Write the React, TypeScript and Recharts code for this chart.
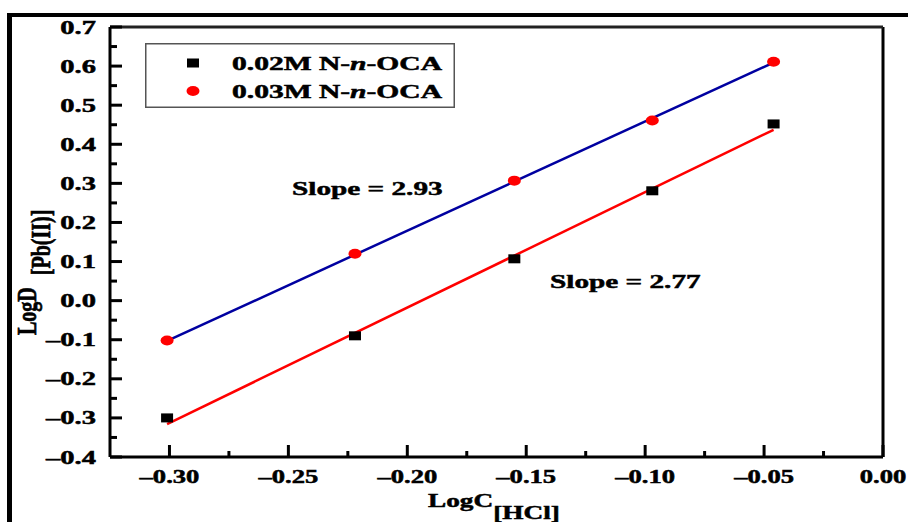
import {
  ComposedChart,
  Scatter,
  Line,
  XAxis,
  YAxis,
  ReferenceLine,
  Legend,
  Customized,
} from 'recharts';

const FONT = '"Liberation Serif", "Times New Roman", serif';

// log C(HCl) for the five acid concentrations
const logC = [-0.301, -0.222, -0.155, -0.097, -0.046];
// log D Pb(II) at the two extractant concentrations
const logD002 = [-0.3, -0.09, 0.107, 0.281, 0.452];
const logD003 = [-0.102, 0.12, 0.307, 0.461, 0.611];

// linear fit end points
const fitX = [-0.301, -0.046];
const fit002 = [-0.316, 0.437];
const fit003 = [-0.103, 0.609];

const xTicks = [-0.3, -0.275, -0.25, -0.225, -0.2, -0.175, -0.15, -0.125, -0.1, -0.075, -0.05, -0.025, 0];
const yTicks = [
  -0.4, -0.35, -0.3, -0.25, -0.2, -0.15, -0.1, -0.05, 0, 0.05, 0.1, 0.15, 0.2, 0.25, 0.3, 0.35, 0.4, 0.45,
  0.5, 0.55, 0.6, 0.65, 0.7,
];

const pts002 = logC.map((x, i) => ({ x, y: logD002[i] }));
const pts003 = logC.map((x, i) => ({ x, y: logD003[i] }));
const line002 = fitX.map((x, i) => ({ x, y: fit002[i] }));
const line003 = fitX.map((x, i) => ({ x, y: fit003[i] }));

const dash = (s: string) => s.replace('-', '\u2013');

// the source figure uses a heavy, slightly smeared bold
const heavy = { fontFamily: FONT, fontWeight: 'bold', fill: '#000', stroke: '#000', strokeWidth: 0.5 } as const;

const YTick = (props: any) => {
  const { x, y, payload } = props;
  const v = payload.value;
  const major = Math.round(v * 100) % 10 === 0;
  return (
    <g>
      <line x1={x} x2={x + (major ? 12 : 7)} y1={y} y2={y} stroke="#000" strokeWidth={3} />
      {major && (
        <text transform={`translate(${x - 14},${y + 6.5}) scale(1.5,1)`} textAnchor="end" fontSize={19} {...heavy}>
          {dash(v.toFixed(1))}
        </text>
      )}
    </g>
  );
};

const XTick = (props: any) => {
  const { x, y, payload } = props;
  const v = payload.value;
  const major = Math.round(v * 1000) % 50 === 0;
  return (
    <g>
      <line x1={x} x2={x} y1={y} y2={y - (major ? 12 : 6)} stroke="#000" strokeWidth={3} />
      {major && (
        <text transform={`translate(${x},${y + 26}) scale(1.4,1)`} textAnchor="middle" fontSize={19} {...heavy}>
          {dash(v.toFixed(2))}
        </text>
      )}
    </g>
  );
};

const LegendBox = (props: any) => {
  const items = (props.payload || []).filter((it: any) => it.type === 'square' || it.type === 'circle');
  return (
    <svg width={310} height={65} style={{ display: 'block' }}>
      <rect x={0.75} y={0.75} width={308.5} height={63.5} fill="#fff" stroke="#555" strokeWidth={1.5} />
      {items.map((it: any, i: number) => {
        const cy = 20 + i * 28;
        const parts = String(it.value).split('-n-');
        return (
          <g key={i}>
            {it.type === 'square' ? (
              <rect x={42} y={cy - 4.5} width={12} height={9} fill={it.color} />
            ) : (
              <ellipse cx={48} cy={cy} rx={6.5} ry={5} fill={it.color} />
            )}
            <text x={87} y={cy + 7} textLength={210} lengthAdjust="spacingAndGlyphs" fontSize={19} {...heavy}>
              {parts[0]}-<tspan fontStyle="italic">n</tspan>-{parts[1]}
            </text>
          </g>
        );
      })}
    </svg>
  );
};

const Texts = () => (
  <g {...heavy}>
    <text transform="translate(292,195) scale(1.5,1)" fontSize={19.5}>
      Slope = 2.93
    </text>
    <text transform="translate(550,288) scale(1.5,1)" fontSize={19.5}>
      Slope = 2.77
    </text>
    <text transform="translate(428,507) scale(1.4,1)" fontSize={19.5}>
      LogC<tspan dy={12}>[HCl]</tspan>
    </text>
    <text transform="translate(36,335) scale(1.4,1) rotate(-90)" fontSize={20}>
      LogD<tspan dx={12} dy={10}>[Pb(II)]</tspan>
    </text>
  </g>
);

const Square = (props: any) => (
  <rect x={props.cx - 6} y={props.cy - 4.5} width={12} height={9} fill="#000" />
);
const Dot = (props: any) => <ellipse cx={props.cx} cy={props.cy} rx={6.5} ry={5} fill="#ff0000" />;

export default function App() {
  return (
    <div style={{ position: 'absolute', left: 0, top: 0, width: 908, height: 522, background: '#fff' }}>
      <div style={{ position: 'absolute', left: 7, top: 13, width: 901, height: 4, background: '#000' }} />
      <div style={{ position: 'absolute', left: 7, top: 13, width: 5, height: 509, background: '#000' }} />
      <ComposedChart width={908} height={522} margin={{ top: 27, right: 25, bottom: 0, left: 0 }}>
        <XAxis
          type="number"
          dataKey="x"
          domain={[-0.325, 0]}
          ticks={xTicks}
          interval={0}
          allowDataOverflow
          height={65}
          tickLine={false}
          tickSize={0}
          tickMargin={0}
          tick={<XTick />}
          axisLine={{ stroke: '#000', strokeWidth: 3 }}
        />
        <YAxis
          type="number"
          dataKey="y"
          domain={[-0.4, 0.7]}
          ticks={yTicks}
          interval={0}
          allowDataOverflow
          width={110}
          tickLine={false}
          tickSize={0}
          tickMargin={0}
          tick={<YTick />}
          axisLine={{ stroke: '#000', strokeWidth: 3 }}
        />
        <ReferenceLine x={0} stroke="#000" strokeWidth={3} />
        <ReferenceLine y={0.7} stroke="#222" strokeWidth={3} />
        <Line
          data={line002}
          dataKey="y"
          stroke="#ff0000"
          strokeWidth={2.5}
          dot={false}
          legendType="none"
          isAnimationActive={false}
        />
        <Line
          data={line003}
          dataKey="y"
          stroke="#0000a0"
          strokeWidth={2.5}
          dot={false}
          legendType="none"
          isAnimationActive={false}
        />
        <Scatter
          name="0.02M N-n-OCA"
          data={pts002}
          fill="#000"
          legendType="square"
          shape={<Square />}
          isAnimationActive={false}
        />
        <Scatter
          name="0.03M N-n-OCA"
          data={pts003}
          fill="#ff0000"
          legendType="circle"
          shape={<Dot />}
          isAnimationActive={false}
        />
        <Legend
          layout="horizontal"
          verticalAlign="middle"
          align="center"
          content={<LegendBox />}
          wrapperStyle={{ left: 145, top: 43, width: 310, height: 65 }}
        />
        <Customized component={<Texts />} />
      </ComposedChart>
    </div>
  );
}
